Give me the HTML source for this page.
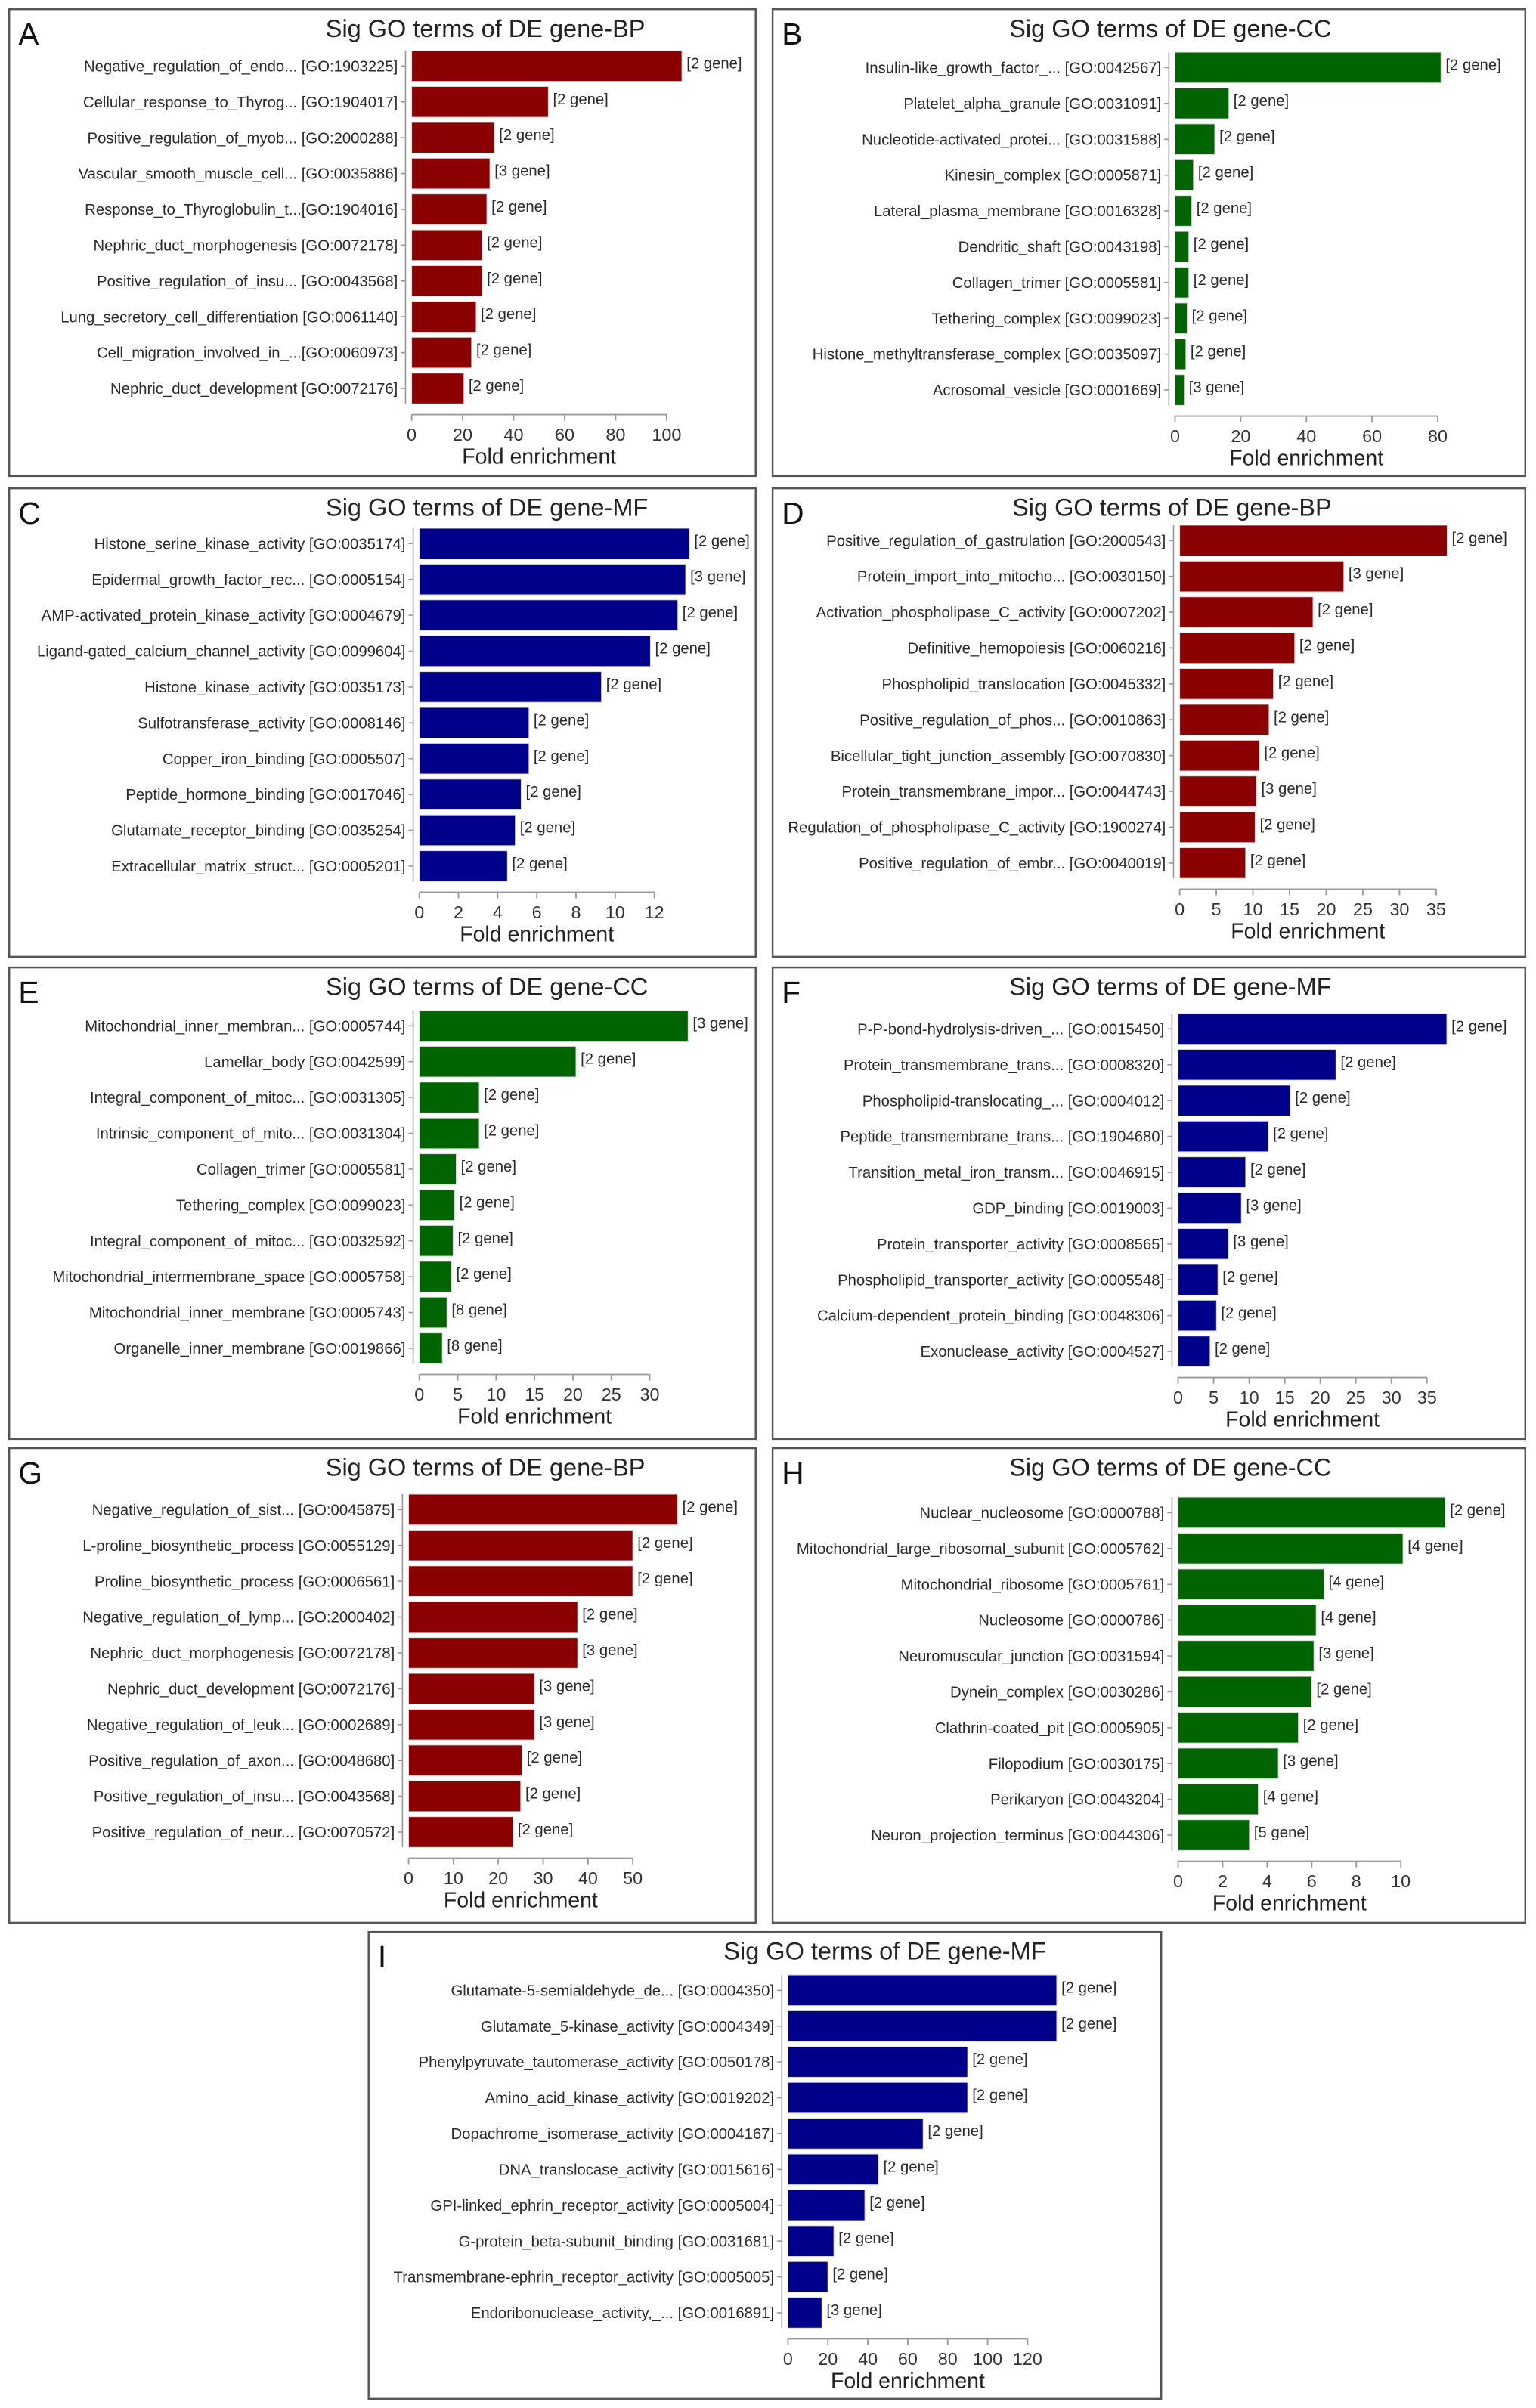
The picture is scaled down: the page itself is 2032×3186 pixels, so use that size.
<!DOCTYPE html>
<html><head><meta charset="utf-8">
<style>
html,body{margin:0;padding:0;background:#fff;}
svg{display:block;font-family:"Liberation Sans",Arial,sans-serif;}
</style></head>
<body>
<svg id="fig" width="2032" height="3186" viewBox="0 0 1000 1568" preserveAspectRatio="none" xmlns="http://www.w3.org/2000/svg"></svg>
<script>
// ---- data ----
const labelsA = ["Negative_regulation_of_endo... [GO:1903225]","Cellular_response_to_Thyrog... [GO:1904017]","Positive_regulation_of_myob... [GO:2000288]","Vascular_smooth_muscle_cell... [GO:0035886]","Response_to_Thyroglobulin_t...[GO:1904016]","Nephric_duct_morphogenesis [GO:0072178]","Positive_regulation_of_insu... [GO:0043568]","Lung_secretory_cell_differentiation [GO:0061140]","Cell_migration_involved_in_...[GO:0060973]","Nephric_duct_development [GO:0072176]"];
const valuesA = [106,53.6,32.5,30.7,29.5,27.7,27.7,25.3,23.5,20.5];
const genesA = [2,2,2,3,2,2,2,2,2,2];
const ticksA = [0,20,40,60,80,100];

const labelsB = ["Insulin-like_growth_factor_... [GO:0042567]","Platelet_alpha_granule [GO:0031091]","Nucleotide-activated_protei... [GO:0031588]","Kinesin_complex [GO:0005871]","Lateral_plasma_membrane [GO:0016328]","Dendritic_shaft [GO:0043198]","Collagen_trimer [GO:0005581]","Tethering_complex [GO:0099023]","Histone_methyltransferase_complex [GO:0035097]","Acrosomal_vesicle [GO:0001669]"];
const valuesB = [81,16.4,12.1,5.6,5.1,4.2,4.2,3.7,3.3,2.8];
const genesB = [2,2,2,2,2,2,2,2,2,3];
const ticksB = [0,20,40,60,80];

const labelsC = ["Histone_serine_kinase_activity [GO:0035174]","Epidermal_growth_factor_rec... [GO:0005154]","AMP-activated_protein_kinase_activity [GO:0004679]","Ligand-gated_calcium_channel_activity [GO:0099604]","Histone_kinase_activity [GO:0035173]","Sulfotransferase_activity [GO:0008146]","Copper_iron_binding [GO:0005507]","Peptide_hormone_binding [GO:0017046]","Glutamate_receptor_binding [GO:0035254]","Extracellular_matrix_struct... [GO:0005201]"];
const valuesC = [13.8,13.6,13.2,11.8,9.3,5.6,5.6,5.2,4.9,4.5];
const genesC = [2,3,2,2,2,2,2,2,2,2];
const ticksC = [0,2,4,6,8,10,12];

const labelsD = ["Positive_regulation_of_gastrulation [GO:2000543]","Protein_import_into_mitocho... [GO:0030150]","Activation_phospholipase_C_activity [GO:0007202]","Definitive_hemopoiesis [GO:0060216]","Phospholipid_translocation [GO:0045332]","Positive_regulation_of_phos... [GO:0010863]","Bicellular_tight_junction_assembly [GO:0070830]","Protein_transmembrane_impor... [GO:0044743]","Regulation_of_phospholipase_C_activity [GO:1900274]","Positive_regulation_of_embr... [GO:0040019]"];
const valuesD = [36.5,22.4,18.2,15.7,12.8,12.2,10.9,10.5,10.3,9.0];
const genesD = [2,3,2,2,2,2,2,3,2,2];
const ticksD = [0,5,10,15,20,25,30,35];

const labelsE = ["Mitochondrial_inner_membran... [GO:0005744]","Lamellar_body [GO:0042599]","Integral_component_of_mitoc... [GO:0031305]","Intrinsic_component_of_mito... [GO:0031304]","Collagen_trimer [GO:0005581]","Tethering_complex [GO:0099023]","Integral_component_of_mitoc... [GO:0032592]","Mitochondrial_intermembrane_space [GO:0005758]","Mitochondrial_inner_membrane [GO:0005743]","Organelle_inner_membrane [GO:0019866]"];
const valuesE = [35,20.4,7.8,7.8,4.8,4.6,4.4,4.2,3.6,3.0];
const genesE = [3,2,2,2,2,2,2,2,8,8];
const ticksE = [0,5,10,15,20,25,30];

const labelsF = ["P-P-bond-hydrolysis-driven_... [GO:0015450]","Protein_transmembrane_trans... [GO:0008320]","Phospholipid-translocating_... [GO:0004012]","Peptide_transmembrane_trans... [GO:1904680]","Transition_metal_iron_transm... [GO:0046915]","GDP_binding [GO:0019003]","Protein_transporter_activity [GO:0008565]","Phospholipid_transporter_activity [GO:0005548]","Calcium-dependent_protein_binding [GO:0048306]","Exonuclease_activity [GO:0004527]"];
const valuesF = [37.8,22.2,15.8,12.7,9.5,8.9,7.1,5.6,5.4,4.5];
const genesF = [2,2,2,2,2,3,3,2,2,2];
const ticksF = [0,5,10,15,20,25,30,35];

const labelsG = ["Negative_regulation_of_sist... [GO:0045875]","L-proline_biosynthetic_process [GO:0055129]","Proline_biosynthetic_process [GO:0006561]","Negative_regulation_of_lymp... [GO:2000402]","Nephric_duct_morphogenesis [GO:0072178]","Nephric_duct_development [GO:0072176]","Negative_regulation_of_leuk... [GO:0002689]","Positive_regulation_of_axon... [GO:0048680]","Positive_regulation_of_insu... [GO:0043568]","Positive_regulation_of_neur... [GO:0070572]"];
const valuesG = [60,50,50,37.7,37.7,28.1,28.1,25.3,25,23.3];
const genesG = [2,2,2,2,3,3,3,2,2,2];
const ticksG = [0,10,20,30,40,50];

const labelsH = ["Nuclear_nucleosome [GO:0000788]","Mitochondrial_large_ribosomal_subunit [GO:0005762]","Mitochondrial_ribosome [GO:0005761]","Nucleosome [GO:0000786]","Neuromuscular_junction [GO:0031594]","Dynein_complex [GO:0030286]","Clathrin-coated_pit [GO:0005905]","Filopodium [GO:0030175]","Perikaryon [GO:0043204]","Neuron_projection_terminus [GO:0044306]"];
const valuesH = [12,10.1,6.55,6.2,6.1,6.0,5.4,4.5,3.6,3.2];
const genesH = [2,4,4,4,3,2,2,3,4,5];
const ticksH = [0,2,4,6,8,10];

const labelsI = ["Glutamate-5-semialdehyde_de... [GO:0004350]","Glutamate_5-kinase_activity [GO:0004349]","Phenylpyruvate_tautomerase_activity [GO:0050178]","Amino_acid_kinase_activity [GO:0019202]","Dopachrome_isomerase_activity [GO:0004167]","DNA_translocase_activity [GO:0015616]","GPI-linked_ephrin_receptor_activity [GO:0005004]","G-protein_beta-subunit_binding [GO:0031681]","Transmembrane-ephrin_receptor_activity [GO:0005005]","Endoribonuclease_activity,_... [GO:0016891]"];
const valuesI = [134.6,134.6,90,90,67.7,45.4,38.5,23,20,17];
const genesI = [2,2,2,2,2,2,2,2,2,3];
const ticksI = [0,20,40,60,80,100,120];

const RED="#8b0000", GREEN="#006400", BLUE="#00008b";
const panels = [
 {id:"a",letter:"A",title:"Sig GO terms of DE gene-BP",color:RED,box:[6,6,486,304],x0:268,x1:434,titleX:316,row0:43,labels:labelsA,values:valuesA,genes:genesA,ticks:ticksA},
 {id:"b",letter:"B",title:"Sig GO terms of DE gene-CC",color:GREEN,box:[503,6,490,304],x0:765,x1:936,titleX:762,row0:44,labels:labelsB,values:valuesB,genes:genesB,ticks:ticksB},
 {id:"c",letter:"C",title:"Sig GO terms of DE gene-MF",color:BLUE,box:[6,318,486,305],x0:273,x1:426,titleX:317,row0:354,labels:labelsC,values:valuesC,genes:genesC,ticks:ticksC},
 {id:"d",letter:"D",title:"Sig GO terms of DE gene-BP",color:RED,box:[503,318,490,305],x0:768,x1:935,titleX:763,row0:352,labels:labelsD,values:valuesD,genes:genesD,ticks:ticksD},
 {id:"e",letter:"E",title:"Sig GO terms of DE gene-CC",color:GREEN,box:[6,630,486,307],x0:273,x1:423,titleX:317,row0:668,labels:labelsE,values:valuesE,genes:genesE,ticks:ticksE},
 {id:"f",letter:"F",title:"Sig GO terms of DE gene-MF",color:BLUE,box:[503,630,490,307],x0:767,x1:929,titleX:762,row0:670,labels:labelsF,values:valuesF,genes:genesF,ticks:ticksF},
 {id:"g",letter:"G",title:"Sig GO terms of DE gene-BP",color:RED,box:[6,943,486,309],x0:266,x1:412,titleX:316,row0:983,labels:labelsG,values:valuesG,genes:genesG,ticks:ticksG},
 {id:"h",letter:"H",title:"Sig GO terms of DE gene-CC",color:GREEN,box:[503,943,490,309],x0:767,x1:912,titleX:762,row0:985,labels:labelsH,values:valuesH,genes:genesH,ticks:ticksH},
 {id:"i",letter:"I",title:"Sig GO terms of DE gene-MF",color:BLUE,box:[240,1258,516,304],x0:513,x1:669,titleX:576,row0:1296,labels:labelsI,values:valuesI,genes:genesI,ticks:ticksI}
];

const NS="http://www.w3.org/2000/svg";
const svg=document.getElementById("fig");
function mk(tag,attrs,parent,text){
  const e=document.createElementNS(NS,tag);
  for(const k in attrs) e.setAttribute(k,attrs[k]);
  if(text!==undefined) e.textContent=text;
  parent.appendChild(e);
  return e;
}
const ROW=23.33, BH=20;
panels.forEach(p=>{
  const g=mk("g",{},svg);
  
  
  const [bx,by,bw,bh]=p.box;
  const box=mk("rect",{x:bx,y:by,width:bw,height:bh,fill:"none",stroke:"#555","stroke-width":1.2},g);
  
  
  const lt=mk("text",{x:bx+6,y:by+23,"font-size":20,fill:"#111"},g,p.letter);
  
  
  const tt=mk("text",{x:p.titleX,y:by+18,"font-size":16,"text-anchor":"middle",fill:"#222"},g,p.title);
  
  
  const tmax=p.ticks[p.ticks.length-1];
  const sx=v=>p.x0+(v/tmax)*(p.x1-p.x0);
  const rowY=i=>p.row0+i*ROW;
  const lastY=rowY(p.values.length-1);
  const yl=mk("line",{x1:p.x0-4,x2:p.x0-4,y1:rowY(0)-BH/2,y2:lastY+BH/2,stroke:"#999","stroke-width":0.8},g);
  
  
  p.values.forEach((v,i)=>{
    const y=rowY(i);
    const tk=mk("line",{x1:p.x0-7,x2:p.x0-4,y1:y,y2:y,stroke:"#999","stroke-width":0.8},g);
    
    
    const lb=mk("text",{x:p.x0-9,y:y+3.5,"font-size":10,"text-anchor":"end",fill:"#2a2a2a"},g,p.labels[i]);
    
    
    const b=mk("rect",{x:p.x0,y:y-BH/2,width:Math.max(0,sx(v)-p.x0),height:BH,fill:p.color,stroke:"#ddd","stroke-width":0.5},g);
    
    
    const gt=mk("text",{x:sx(v)+3,y:y+1.5,"font-size":10,fill:"#2a2a2a"},g,"["+p.genes[i]+" gene]");
    
    
  });
  const ay=lastY+17;
  const xl=mk("line",{x1:sx(0),x2:sx(tmax),y1:ay,y2:ay,stroke:"#999","stroke-width":0.9},g);
  
  
  p.ticks.forEach(t=>{
    const tl=mk("line",{x1:sx(t),x2:sx(t),y1:ay,y2:ay+4,stroke:"#999","stroke-width":0.9},g);
    
    
    const tx=mk("text",{x:sx(t),y:ay+17,"font-size":11.5,"text-anchor":"middle",fill:"#333"},g,String(t));
    
    
  });
  const at=mk("text",{x:(sx(0)+sx(tmax))/2,y:ay+32,"font-size":14,"text-anchor":"middle",fill:"#222"},g,"Fold enrichment");
  
  
});
</script>
</body></html>
